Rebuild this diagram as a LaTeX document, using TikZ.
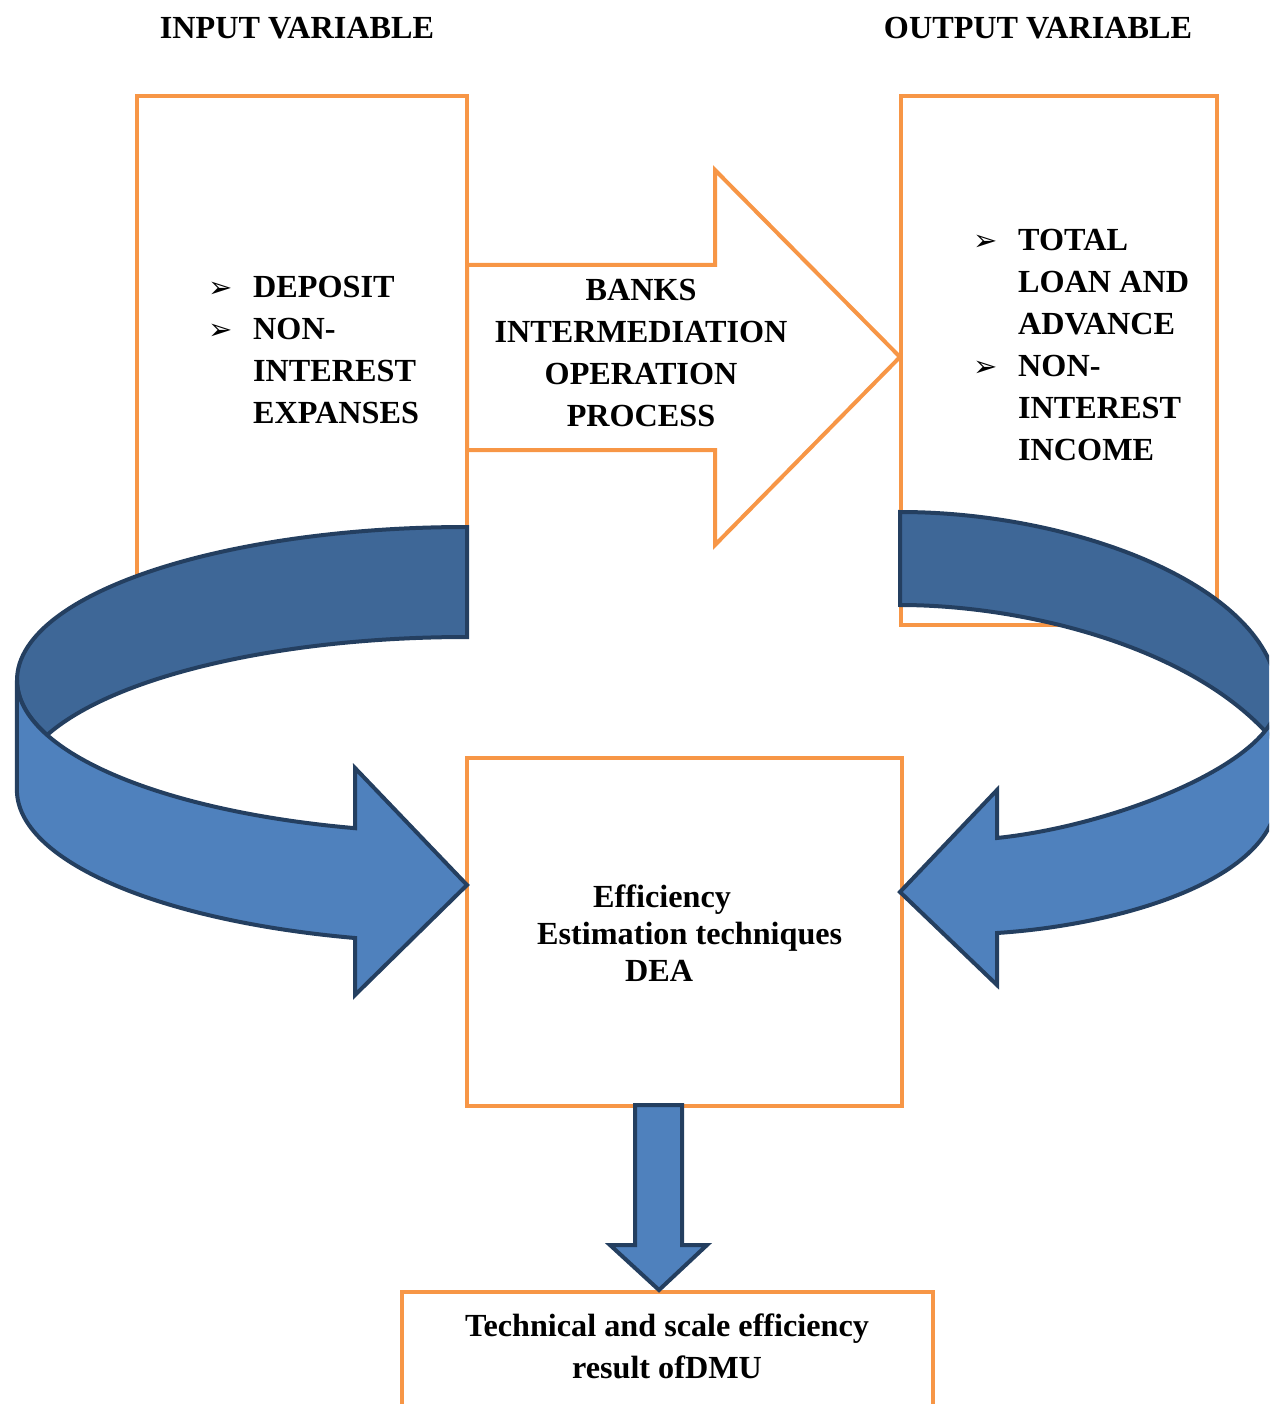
\documentclass[tikz,border=0pt]{standalone}
\usepackage{fontspec}
\setmainfont{Liberation Serif}
\newfontfamily\symfont{DejaVu Sans}
\usetikzlibrary{positioning}

\definecolor{boxorange}{HTML}{F79646}
\definecolor{bandfront}{HTML}{4F81BD}
\definecolor{bandback}{HTML}{3E6797}
\definecolor{bandline}{HTML}{243F60}

\newcommand{\bul}{\makebox[45pt][l]{\symfont\fontsize{29}{29}\selectfont ➢}}

\begin{document}
\begin{tikzpicture}[x=1pt,y=-1pt,font=\fontsize{32.2}{42}\selectfont\bfseries,
  box/.style={draw=boxorange,line width=4pt,fill=white,inner sep=0pt},
  blockarrow/.style={draw=boxorange,line width=4pt,fill=white,line join=miter},
  band/.style={draw=bandline,line width=4pt,line join=miter},
  txt/.style={inner sep=0pt,align=center}]
 \useasboundingbox (0,0) rectangle (1269,1404);
 \clip (0,0) rectangle (1269,1404);

 % titles
 \node[txt] (intitle)  at (297,28)  {INPUT VARIABLE};
 \node[txt] (outtitle) at (1038,28) {OUTPUT VARIABLE};

 % input / output boxes
 \node[box,minimum width=330,minimum height=534] (inbox)  at (302,363)   {};
 \node[box,minimum width=316,minimum height=529] (outbox) at (1059,360.5) {};

 % process arrow
 \draw[blockarrow] (467,265) -- (715,265) -- (715,170) -- (900,357)
   -- (715,545) -- (715,450) -- (467,450) -- cycle;
 \node[txt] (proctext) at (641,353) {BANKS\\INTERMEDIATION\\OPERATION\\PROCESS};

 \node[txt,anchor=west,align=left] (inlist) at (208,350)
   {\bul DEPOSIT\\\bul NON-\\\hspace*{45pt}INTEREST\\\hspace*{45pt}EXPANSES};
 \node[txt,anchor=west,align=left] (outlist) at (973,345)
   {\bul TOTAL\\\hspace*{45pt}LOAN AND\\\hspace*{45pt}ADVANCE\\\bul NON-\\\hspace*{45pt}INTEREST\\\hspace*{45pt}INCOME};

 % estimation box
 \node[box,minimum width=435,minimum height=348] (deabox) at (684.5,932) {};
 \node[txt,anchor=west,align=left,font=\fontsize{32.2}{37}\selectfont\bfseries] (deatext) at (537,933)
   {\hspace*{56pt}Efficiency\\Estimation techniques\\\hspace*{88pt}DEA};

 % left curved arrow
 \draw[band,fill=bandback] (467,527) arc[start angle=270,end angle=158.93,x radius=450,y radius=153]
   arc[start angle=201.07,end angle=270,x radius=450,y radius=153] -- cycle;
 \draw[band,fill=bandfront] (17,680) arc[start angle=180,end angle=104.4,x radius=450,y radius=153]
   -- (355,768) -- (467,885) -- (355,995) -- (355,938)
   arc[start angle=104.4,end angle=180,x radius=450,y radius=153] -- cycle;

 % right curved arrow
 \draw[band,fill=bandback] (900,512) .. controls (1080,512) and (1278,590) .. (1278,700)
   -- (1278,745) -- (1265,731) .. controls (1183,644) and (1020,605) .. (900,605) -- cycle;
 \draw[band,fill=bandfront] (1278,700) .. controls (1278,760) and (1120,825) .. (997,838)
   -- (997,790) -- (900,892) -- (997,985) -- (997,933)
   .. controls (1120,925) and (1278,880) .. (1278,793) -- cycle;

 % result box
 \node[box,minimum width=531,minimum height=160] (resbox) at (667.5,1372) {};
 \node[txt] (restext) at (667,1346) {Technical and scale efficiency\\result ofDMU};

 % down arrow
 \draw[band,fill=bandfront] (635,1105) -- (682,1105) -- (682,1245) -- (707,1245)
   -- (659,1290) -- (610,1245) -- (635,1245) -- cycle;
\end{tikzpicture}
\end{document}
